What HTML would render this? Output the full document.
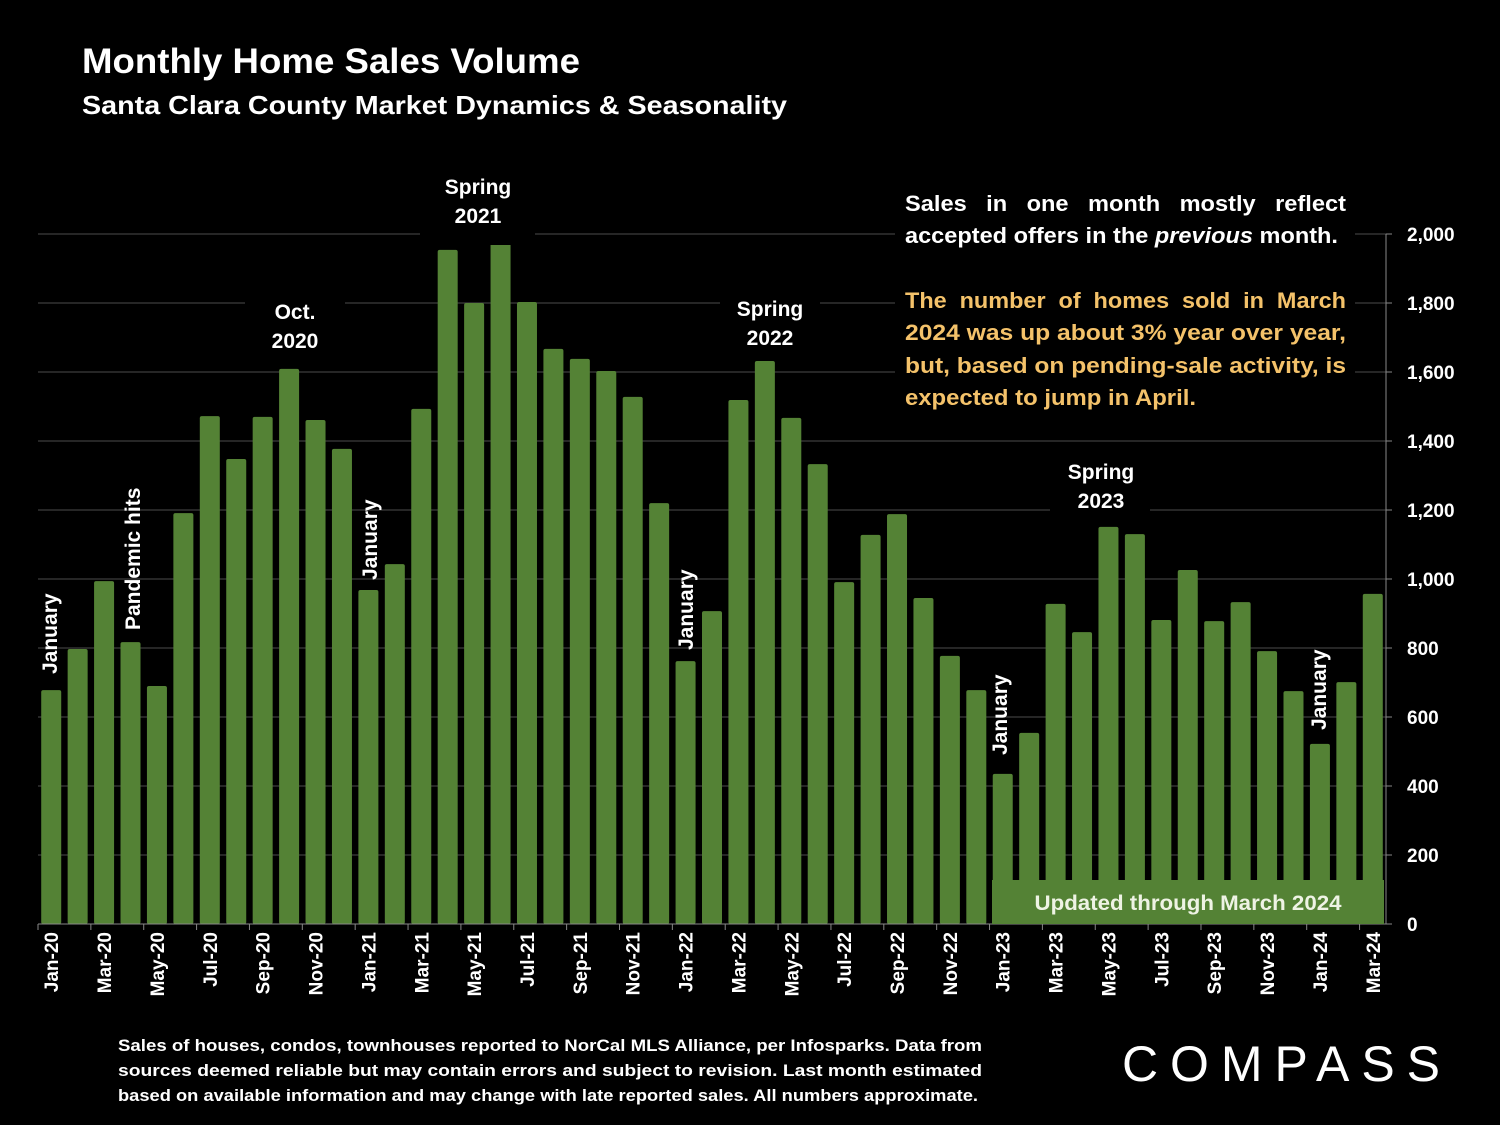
<!DOCTYPE html>
<html><head><meta charset="utf-8"><style>
body{margin:0;background:#000;}
svg{display:block;font-family:"Liberation Sans",Calibri,sans-serif;}
.t{fill:#fff;font-weight:bold;}
</style></head><body>
<svg id="c" width="1500" height="1125" viewBox="0 0 1500 1125">
<rect width="1500" height="1125" fill="#000"/>
<text class="t" x="82" y="73" font-size="35" textLength="498" lengthAdjust="spacingAndGlyphs">Monthly Home Sales Volume</text>
<text class="t" x="82" y="114" font-size="26" textLength="705" lengthAdjust="spacingAndGlyphs">Santa Clara County Market Dynamics &amp; Seasonality</text>
<g id="grid"></g>
<g id="bars"></g>
<g id="axis"></g>
<rect x="992" y="880" width="392" height="44" fill="#548235"/>
<text x="1188" y="910" font-size="21" font-weight="bold" fill="#eef3e4" text-anchor="middle" textLength="307" lengthAdjust="spacingAndGlyphs">Updated through March 2024</text>
<g font-size="21" class="t">
<rect x="420" y="170" width="115" height="75" fill="#000"/>
<text class="t" x="478" y="194" text-anchor="middle">Spring<tspan x="478" dy="29">2021</tspan></text>
<rect x="245" y="292" width="100" height="75" fill="#000"/>
<text class="t" x="295" y="319" text-anchor="middle">Oct.<tspan x="295" dy="29">2020</tspan></text>
<rect x="720" y="292" width="100" height="60" fill="#000"/>
<text class="t" x="770" y="316" text-anchor="middle">Spring<tspan x="770" dy="29">2022</tspan></text>
<rect x="1050" y="457" width="100" height="60" fill="#000"/>
<text class="t" x="1101" y="479" text-anchor="middle">Spring<tspan x="1101" dy="29">2023</tspan></text>
<text class="t" x="57" y="674" transform="rotate(-90 57 674)">January</text>
<text class="t" x="140" y="630" transform="rotate(-90 140 630)">Pandemic hits</text>
<text class="t" x="377" y="580" transform="rotate(-90 377 580)">January</text>
<text class="t" x="693" y="650" transform="rotate(-90 693 650)">January</text>
<text class="t" x="1007" y="755" transform="rotate(-90 1007 755)">January</text>
<text class="t" x="1326" y="730" transform="rotate(-90 1326 730)">January</text>
</g>
<rect x="895" y="180" width="460" height="235" fill="#000"/>
<g font-size="22" font-weight="bold">
<text fill="#fff" x="905" y="211" textLength="441" lengthAdjust="spacingAndGlyphs" word-spacing="12">Sales in one month mostly reflect</text>
<text fill="#fff" x="905" y="243" textLength="433" lengthAdjust="spacingAndGlyphs">accepted offers in the <tspan font-style="italic">previous</tspan> month.</text>
<text fill="#f4c26a" x="905" y="308" textLength="441" lengthAdjust="spacingAndGlyphs" word-spacing="6">The number of homes sold in March</text>
<text fill="#f4c26a" x="905" y="340" textLength="441" lengthAdjust="spacingAndGlyphs">2024 was up about 3% year over year,</text>
<text fill="#f4c26a" x="905" y="373" textLength="441" lengthAdjust="spacingAndGlyphs">but, based on pending-sale activity, is</text>
<text fill="#f4c26a" x="905" y="405" textLength="291" lengthAdjust="spacingAndGlyphs">expected to jump in April.</text>
</g>
<g font-size="17" font-weight="bold" fill="#fff">
<text x="118" y="1051" textLength="864" lengthAdjust="spacingAndGlyphs">Sales of houses, condos, townhouses reported to NorCal MLS Alliance, per Infosparks. Data from</text>
<text x="118" y="1076" textLength="864" lengthAdjust="spacingAndGlyphs">sources deemed reliable but may contain errors and subject to revision. Last month estimated</text>
<text x="118" y="1101" textLength="860" lengthAdjust="spacingAndGlyphs">based on available information and may change with late reported sales. All numbers approximate.</text>
</g>
<text x="1122" y="1081" font-size="50" fill="#fff" textLength="318" lengthAdjust="spacing">COMPASS</text>
</svg>
<script>
const months=["Jan","Feb","Mar","Apr","May","Jun","Jul","Aug","Sep","Oct","Nov","Dec"];
const categories=[];
for(let y=20;y<=24;y++)for(let m=0;m<12;m++){if(y===24&&m>2)break;categories.push(months[m]+"-"+y);}
const sales=[678,797,994,817,690,1191,1472,1348,1470,1609,1461,1377,
968,1043,1493,1954,1800,1983,1803,1667,1638,1603,1528,1220,
762,907,1519,1632,1467,1333,991,1128,1188,945,777,678,
435,554,928,846,1151,1130,881,1026,878,933,791,675,
522,701,957];
const yTicks=[0,200,400,600,800,1000,1200,1400,1600,1800,2000];
const NS="http://www.w3.org/2000/svg";
const y0=924,yTop=234,x0=38,x1=1386;
const ys=v=>y0-(v/2000)*(y0-yTop);
const step=(x1-x0)/categories.length;
const xs=i=>x0+step*(i+0.5);
function mk(t,a,p){const e=document.createElementNS(NS,t);for(const k in a)e.setAttribute(k,a[k]);p.appendChild(e);return e;}
const grid=document.getElementById('grid'),bars=document.getElementById('bars'),axis=document.getElementById('axis');
yTicks.forEach(v=>{
  if(v>0){const l=mk('line',{x1:x0,x2:x1,y1:ys(v),y2:ys(v),stroke:'#3c3c3c','stroke-width':1.3},grid);
  
  }
  mk('line',{x1:x1,x2:x1+6,y1:ys(v),y2:ys(v),stroke:'#888'},axis);
  const t=mk('text',{x:1407,y:ys(v)+7,'font-size':19,'font-weight':'bold',fill:'#fff'},axis);
  t.textContent=v.toLocaleString('en-US');
  
  
});
sales.forEach((v,i)=>{
  const r=mk('rect',{x:xs(i)-10,y:ys(v),width:20,height:y0-ys(v),rx:2,fill:'#548235'},bars);
  
  
});
mk('line',{x1:x1,x2:x1,y1:yTop,y2:y0,stroke:'#888'},axis);
mk('line',{x1:x0,x2:x1,y1:y0,y2:y0,stroke:'#888'},axis);
categories.forEach((c,i)=>{
  if(i%2)return;
  mk('line',{x1:xs(i)-step/2,x2:xs(i)-step/2,y1:y0,y2:y0+6,stroke:'#888'},axis);
  const t=mk('text',{x:0,y:0,'font-size':19,'font-weight':'bold',fill:'#fff','text-anchor':'end',transform:`translate(${xs(i)+7},${y0+8}) rotate(-90)`},axis);
  t.textContent=c;
  
  
});
</script>
</body></html>
